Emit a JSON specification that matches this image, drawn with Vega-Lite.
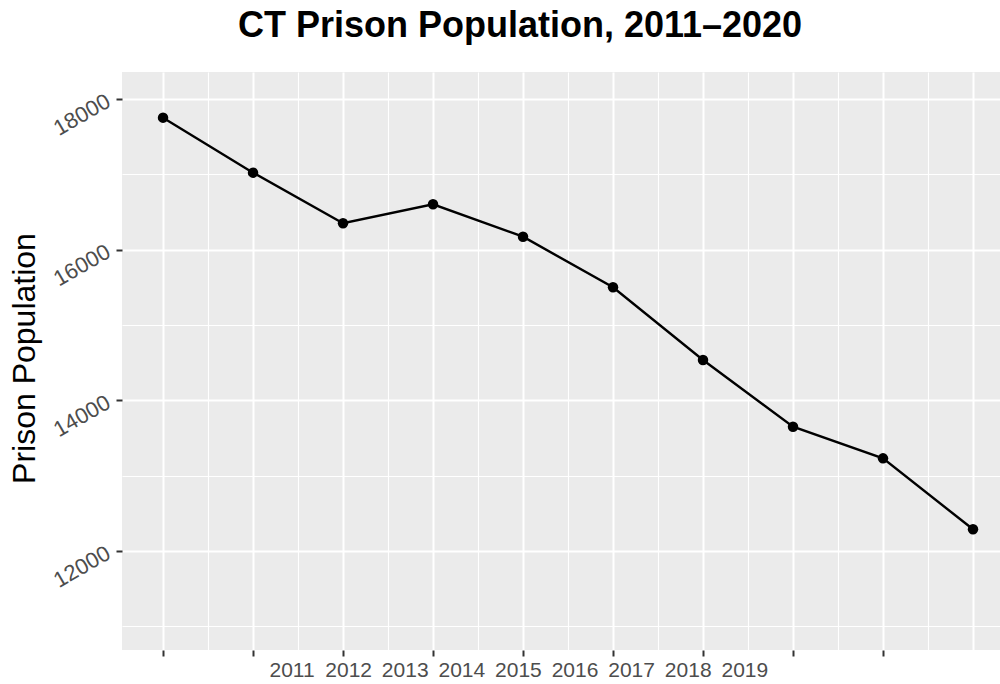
{
  "$schema": "https://vega.github.io/schema/vega-lite/v6.json",
  "width": 878,
  "height": 578,
  "autosize": {"type": "none"},
  "padding": {"left": 122, "top": 72, "right": 0, "bottom": 34},
  "background": "white",
  "title": {
    "text": "CT Prison Population, 2011–2020",
    "font": "Liberation Sans",
    "fontSize": 36,
    "fontWeight": "bold",
    "color": "black",
    "anchor": "middle",
    "dx": -41,
    "dy": 34,
    "baseline": "alphabetic",
    "offset": 33
  },
  "data": {
    "values": [
      {"year": 2011, "population": 17752},
      {"year": 2012, "population": 17022},
      {"year": 2013, "population": 16350},
      {"year": 2014, "population": 16602},
      {"year": 2015, "population": 16172},
      {"year": 2016, "population": 15500},
      {"year": 2017, "population": 14535},
      {"year": 2018, "population": 13650},
      {"year": 2019, "population": 13230},
      {"year": 2020, "population": 12288}
    ]
  },
  "encoding": {
    "x": {
      "field": "year",
      "type": "quantitative",
      "scale": {"domain": [2010.544, 2020.3], "nice": false, "zero": false},
      "axis": {
        "title": null,
        "values": [2011, 2011.5, 2012, 2012.5, 2013, 2013.5, 2014, 2014.5, 2015, 2015.5, 2016, 2016.5, 2017, 2017.5, 2018, 2018.5, 2019, 2019.5, 2020],
        "grid": true,
        "gridColor": "white",
        "gridOpacity": 1,
        "gridWidth": {"condition": {"test": "datum.value % 1 === 0", "value": 2}, "value": 1.1},
        "domain": false,
        "ticks": true,
        "tickSize": 6,
        "tickWidth": 2,
        "tickColor": {"condition": {"test": "datum.value % 1 === 0 && datum.value < 2020", "value": "#333333"}, "value": "transparent"},
        "labelExpr": "datum.value % 1 === 0 && datum.value < 2020 ? format(datum.value, 'd') : ''",
        "labelFont": "Liberation Sans",
        "labelFontSize": 21,
        "labelColor": "#4D4D4D",
        "labelBaseline": "alphabetic",
        "labelAlign": "center",
        "labelPadding": 20,
        "labelFlush": false,
        "labelOverlap": false,
        "labelBound": false,
        "labelOffset": {"expr": "128.5 - (datum.value - 2011) * 33.4"}
      }
    },
    "y": {
      "field": "population",
      "type": "quantitative",
      "scale": {"domain": [10686, 18358], "nice": false, "zero": false},
      "axis": {
        "title": "Prison Population",
        "titleFont": "Liberation Sans",
        "titleFontSize": 32,
        "titleFontWeight": "normal",
        "titleColor": "black",
        "titleAngle": -90,
        "titleX": -88,
        "titleY": 286,
        "titleAlign": "center",
        "titleBaseline": "alphabetic",
        "values": [11000, 12000, 13000, 14000, 15000, 16000, 17000, 18000],
        "grid": true,
        "gridColor": "white",
        "gridOpacity": 1,
        "gridWidth": {"condition": {"test": "datum.value % 2000 === 0", "value": 2}, "value": 1.1},
        "domain": false,
        "ticks": true,
        "tickSize": 6,
        "tickWidth": 2,
        "tickColor": {"condition": {"test": "datum.value % 2000 === 0", "value": "#333333"}, "value": "transparent"},
        "labelExpr": "datum.value % 2000 === 0 ? format(datum.value, 'd') : ''",
        "labelFont": "Liberation Sans",
        "labelFontSize": 22,
        "labelColor": "#4D4D4D",
        "labelAngle": -30,
        "labelAlign": "right",
        "labelBaseline": "middle",
        "labelPadding": 8,
        "labelOverlap": false,
        "labelBound": false,
        "labelFlush": false
      }
    }
  },
  "layer": [
    {"mark": {"type": "line", "color": "black", "strokeWidth": 2.4}},
    {"mark": {"type": "point", "filled": true, "color": "black", "size": 110, "opacity": 1}}
  ],
  "config": {"view": {"fill": "#EBEBEB", "stroke": null}}
}
